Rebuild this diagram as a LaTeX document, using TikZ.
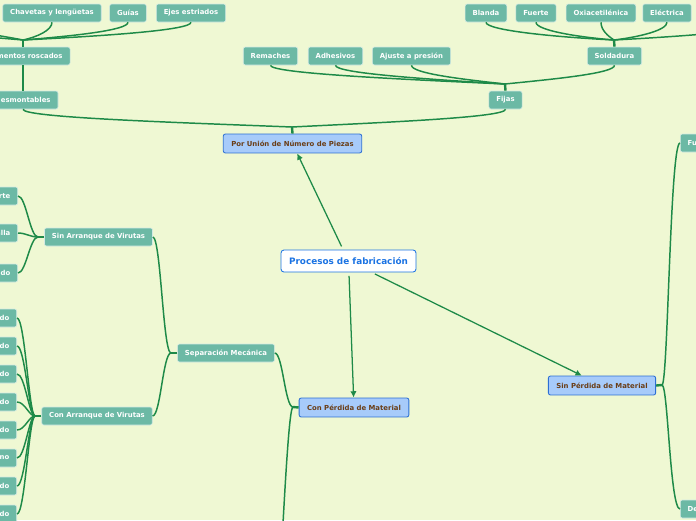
\documentclass[tikz,border=0pt]{standalone}
\usepackage{fontspec}
\setmainfont{DejaVu Sans}
\usetikzlibrary{arrows.meta}
\definecolor{PaperGreen}{HTML}{EFF8D3}
\definecolor{LeafTeal}{HTML}{6CB9A5}
\definecolor{LinkGreen}{HTML}{1E8A48}
\definecolor{TopicBlue}{HTML}{A7CBFA}
\definecolor{EdgeBlue}{HTML}{2C6FD4}
\definecolor{TitleBlue}{HTML}{1B73E3}
\definecolor{TopicBrown}{HTML}{6A3E17}

\begin{document}
\begin{tikzpicture}[x=0.025cm, y=-0.025cm,
  leaf/.style={draw=white!70!LeafTeal, line width=0.4pt, rounded corners=1.5pt, fill=LeafTeal, text=white, font=\bfseries\fontsize{4.9}{5.9}\selectfont, inner xsep=5.3pt, inner ysep=0pt, minimum height=12.8pt},
  cutl/.style={leaf, text width=#1, align=right},
  cutr/.style={leaf, text width=#1, align=left},
  topic/.style={draw=EdgeBlue, line width=0.6pt, rounded corners=1.5pt, fill=TopicBlue, text=TopicBrown, font=\bfseries\fontsize{4.9}{5.9}\selectfont, inner xsep=5.7pt, inner ysep=0pt, minimum height=13.5pt},
  root/.style={draw=TitleBlue, line width=0.6pt, rounded corners=2pt, fill=white, text=TitleBlue, font=\bfseries\fontsize{6.3}{7.5}\selectfont, inner xsep=5.7pt, inner ysep=0pt, minimum height=15.6pt},
  link/.style={LinkGreen, line width=1.05pt},
  stem/.style={LinkGreen, line width=1.7pt},
  arr/.style={-{Latex[length=4.5pt,width=4.5pt]}, LinkGreen, line width=0.9pt, shorten <=2.5pt}
]
\useasboundingbox (0,0) rectangle (696,520);
\clip (0,0) rectangle (696,520);
\fill[PaperGreen] (0,0) rectangle (696,520);

\node[root] (main) at (348.5,261) {Procesos de fabricación};
\node[topic] (pu) at (292.5,143.5) {Por Unión de Número de Piezas};
\node[topic] (cp) at (354,407.5) {Con Pérdida de Material};
\node[topic] (sp) at (602,385.5) {Sin Pérdida de Material};

% por union
\node[leaf] (chav) at (52,13) {Chavetas y lengüetas};
\node[leaf] (guias) at (128,13) {Guías};
\node[leaf] (ejes) at (191,13) {Ejes estriados};
\node[cutl=56.3pt] (eros) at (23,56) {mentos roscados};
\node[cutl=39.2pt] (desm) at (23,100) {esmontables};
\node[leaf] (rem) at (270.5,56) {Remaches};
\node[leaf] (adh) at (335.5,56) {Adhesivos};
\node[leaf] (ajus) at (411.5,56) {Ajuste a presión};
\node[leaf] (fijas) at (505.5,100) {Fijas};
\node[leaf] (sold) at (614.5,56) {Soldadura};
\node[leaf] (bla) at (486,13) {Blanda};
\node[leaf] (fue) at (536,13) {Fuerte};
\node[leaf] (oxi) at (601,13) {Oxiacetilénica};
\node[leaf] (ele) at (667,13) {Eléctrica};

% con perdida
\node[leaf] (sm) at (226,353) {Separación Mecánica};
\node[leaf] (sav) at (98.5,237) {Sin Arranque de Virutas};
\node[leaf] (cav) at (97,416) {Con Arranque de Virutas};
\node[cutl=30pt, anchor=east] (sa1) at (18,196) {rte};
\node[cutl=30pt, anchor=east] (sa2) at (18,233) {alla};
\node[cutl=30pt, anchor=east] (sa3) at (18,273) {udo};
\node[cutl=30pt, anchor=east] (ca1) at (17,318) {do};
\node[cutl=30pt, anchor=east] (ca2) at (17,346) {do};
\node[cutl=30pt, anchor=east] (ca3) at (17,374) {do};
\node[cutl=30pt, anchor=east] (ca4) at (17,402) {do};
\node[cutl=30pt, anchor=east] (ca5) at (17,430) {do};
\node[cutl=30pt, anchor=east] (ca6) at (17,458) {no};
\node[cutl=30pt, anchor=east] (ca7) at (17,486) {do};
\node[cutl=30pt, anchor=east] (ca8) at (17,514) {do};

% sin perdida
\node[cutr=30pt, anchor=west] (fu) at (680,143) {Fu};
\node[cutr=30pt, anchor=west] (de) at (680,509) {De};

\coordinate (fkPU) at (292,127);
\coordinate (fkER) at (23,40);
\coordinate (fkFi) at (505,84);
\coordinate (fkSo) at (614,40);
\coordinate (fkSM) at (171,353);
\coordinate (fkSA) at (38,237);
\coordinate (fkCA) at (35,416);
\coordinate (fkCP) at (293,407);
\coordinate (fkSP) at (662,385);
\coordinate (offa) at (-45,22);
\coordinate (offb) at (-120,22);
\coordinate (offc) at (770,22);
\coordinate (offd) at (265,760);

\draw[arr] (main) -- (pu);
\draw[arr] (main) -- (cp);
\draw[arr] (main) -- (sp);

\draw[stem] (pu.north) -- (fkPU);
\draw[link] (fkPU) .. controls +(-130,-5) and +(0,8) .. (desm.south);
\draw[link] (fkPU) .. controls +(100,-5) and +(0,8) .. (fijas.south);
\draw[link] (desm.north) -- (eros.south);
\draw[stem] (eros.north) -- (fkER);
\draw[link] (fkER) .. controls +(14,-3) and +(0,8) .. (chav.south);
\draw[link] (fkER) .. controls +(50,-4) and +(0,8) .. (guias.south);
\draw[link] (fkER) .. controls +(80,-4) and +(0,8) .. (ejes.south);
\draw[link] (fkER) .. controls +(-30,-6) and +(0,8) .. (offa);
\draw[link] (fkER) .. controls +(-70,-6) and +(0,8) .. (offb);
\draw[stem] (fijas.north) -- (fkFi);
\draw[link] (fkFi) .. controls +(-110,-5) and +(0,8) .. (rem.south);
\draw[link] (fkFi) .. controls +(-80,-5) and +(0,8) .. (adh.south);
\draw[link] (fkFi) .. controls +(-45,-5) and +(0,8) .. (ajus.south);
\draw[link] (fkFi) .. controls +(50,-5) and +(0,8) .. (sold.south);
\draw[stem] (sold.north) -- (fkSo);
\draw[link] (fkSo) .. controls +(-60,-3) and +(0,8) .. (bla.south);
\draw[link] (fkSo) .. controls +(-37,-3) and +(0,8) .. (fue.south);
\draw[link] (fkSo) .. controls +(-6,-4) and +(0,8) .. (oxi.south);
\draw[link] (fkSo) .. controls +(25,-3) and +(0,8) .. (ele.south);
\draw[link] (fkSo) .. controls +(75,-4) and +(0,8) .. (offc);

\draw[stem] (cp.west) -- (fkCP);
\draw[link] (fkCP) .. controls +(-8,0) and +(8,0) .. (sm.east);
\draw[link] (fkCP) .. controls +(-8,0) and +(10,0) .. (offd);
\draw[stem] (sm.west) -- (fkSM);
\draw[link] (fkSM) .. controls +(-8,0) and +(8,0) .. (sav.east);
\draw[link] (fkSM) .. controls +(-8,0) and +(8,0) .. (cav.east);
\draw[stem] (sav.west) -- (fkSA);
\draw[link] (fkSA) .. controls +(-8,0) and +(8,0) .. (sa1.east);
\draw[link] (fkSA) .. controls +(-8,0) and +(8,0) .. (sa2.east);
\draw[link] (fkSA) .. controls +(-8,0) and +(8,0) .. (sa3.east);
\draw[stem] (cav.west) -- (fkCA);
\draw[link] (fkCA) .. controls +(-6,0) and +(8,0) .. (ca1.east);
\draw[link] (fkCA) .. controls +(-6,0) and +(8,0) .. (ca2.east);
\draw[link] (fkCA) .. controls +(-6,0) and +(8,0) .. (ca3.east);
\draw[link] (fkCA) .. controls +(-6,0) and +(8,0) .. (ca4.east);
\draw[link] (fkCA) .. controls +(-6,0) and +(8,0) .. (ca5.east);
\draw[link] (fkCA) .. controls +(-6,0) and +(8,0) .. (ca6.east);
\draw[link] (fkCA) .. controls +(-6,0) and +(8,0) .. (ca7.east);
\draw[link] (fkCA) .. controls +(-6,0) and +(8,0) .. (ca8.east);

\draw[stem] (sp.east) -- (fkSP);
\draw[link] (fkSP) .. controls +(6,0) and +(-10,0) .. (fu.west);
\draw[link] (fkSP) .. controls +(6,0) and +(-10,0) .. (de.west);
\end{tikzpicture}
\end{document}
